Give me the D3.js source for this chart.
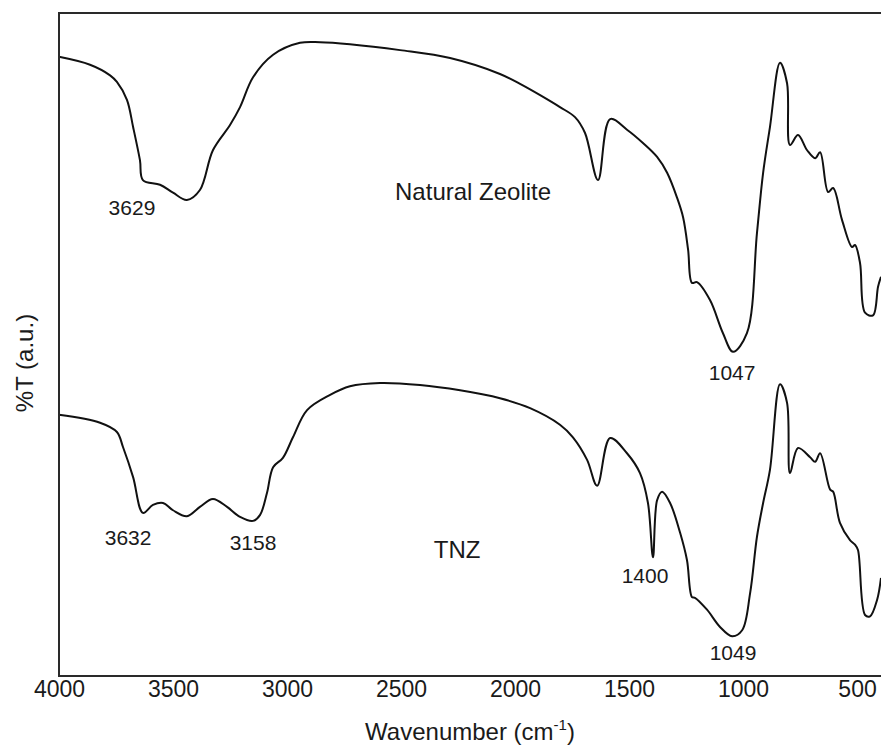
<!DOCTYPE html>
<html>
<head>
<meta charset="utf-8">
<script src="https://cdn.jsdelivr.net/npm/d3@7"></script>
<style>
  html, body { margin: 0; padding: 0; background: #fff; }
  text { font-family: "Liberation Sans", Arial, sans-serif; fill: #1a1a1a; }
</style>
</head>
<body>
<div id="chart"></div>
<script>
// ── Data ────────────────────────────────────────────────
const wavenumbers_nz = [4000, 3864, 3776, 3746, 3702, 3675, 3645, 3632, 3557, 3500, 3439, 3382, 3325, 3250, 3206, 3149, 3061, 2943, 2855, 2724, 2504, 2285, 2066, 1978, 1890, 1803, 1737, 1693, 1636, 1583, 1509, 1439, 1377, 1333, 1290, 1263, 1241, 1224, 1202, 1145, 1088, 1044, 983, 939, 912, 882, 838, 807, 794, 759, 719, 684, 662, 627, 605, 566, 522, 509, 487, 465, 430, 408, 395];
const transmittance_nz = [93.4, 92.2, 90.6, 89.6, 86.9, 82.8, 77.8, 74.8, 74.1, 72.9, 71.8, 73.3, 79.3, 83.1, 85.8, 90.3, 93.7, 95.5, 95.6, 95.3, 94.4, 93.2, 90.8, 89.3, 87.6, 85.8, 84.3, 81.9, 74.8, 84.0, 82.4, 80.4, 78.3, 75.9, 72.2, 69.2, 64.3, 59.3, 59.4, 56.7, 51.7, 48.9, 51.7, 66.8, 75.9, 82.8, 92.5, 89.4, 80.1, 81.6, 79.3, 78.1, 79.0, 73.0, 73.6, 68.8, 64.7, 65.0, 62.3, 54.8, 54.4, 58.7, 60.2];

const wavenumbers_tnz = [4000, 3820, 3746, 3719, 3675, 3632, 3588, 3544, 3500, 3439, 3382, 3325, 3263, 3206, 3149, 3118, 3088, 3061, 3018, 2974, 2912, 2811, 2724, 2592, 2417, 2241, 2066, 1934, 1803, 1746, 1684, 1640, 1583, 1509, 1452, 1417, 1395, 1377, 1355, 1320, 1276, 1246, 1224, 1211, 1158, 1101, 1048, 1004, 969, 939, 912, 882, 838, 807, 794, 759, 706, 684, 662, 618, 605, 575, 531, 509, 496, 465, 443, 412, 395];
const transmittance_tnz = [39.4, 38.2, 36.8, 34.5, 30.0, 24.6, 25.8, 26.1, 25.0, 24.1, 25.5, 26.7, 25.5, 24.0, 23.4, 24.3, 27.6, 31.5, 32.9, 36.0, 40.1, 42.4, 43.7, 44.2, 43.9, 43.1, 41.9, 40.4, 37.9, 36.0, 32.6, 28.7, 35.9, 33.6, 30.6, 26.1, 17.9, 26.5, 27.8, 26.1, 21.6, 17.5, 11.9, 11.8, 10.0, 7.4, 6.0, 6.9, 12.5, 21.0, 26.1, 31.1, 44.0, 41.2, 30.6, 34.4, 33.0, 32.3, 33.6, 28.1, 27.8, 23.1, 20.5, 19.8, 19.0, 9.2, 9.0, 11.5, 14.8];

const xTicks = [4000, 3500, 3000, 2500, 2000, 1500, 1000, 500];

// annotations: text, wavenumber, %T (text centre)
const labelTexts = ['3629', 'Natural Zeolite', '1047', '3632', '3158', 'TNZ', '1400', '1049'];
const labelWaves = [3680, 2184, 1048, 3697, 3149, 2254, 1430, 1044];
const labelTs    = [70.6, 73.0, 45.7, 20.8, 20.1, 19.0, 15.2, 3.5];
const labelSizes = [21, 24, 21, 21, 21, 24, 21, 21];

// ── Layout ──────────────────────────────────────────────
const width = 881, height = 746;
const margin = { left: 59, top: 13, right: 881, bottom: 676 };

const svg = d3.select('#chart')
    .append('svg')
    .attr('width', width)
    .attr('height', height)
    .style('display', 'block')
    .style('background', '#fff');

const x = d3.scaleLinear().domain([4000, 395]).range([margin.left, margin.right]);
const y = d3.scaleLinear().domain([0, 100]).range([margin.bottom, margin.top]);

// ── Spectra ─────────────────────────────────────────────
const line = d3.line()
    .x(d => x(d[0]))
    .y(d => y(d[1]))
    .curve(d3.curveCatmullRom.alpha(0.5));

const series = [
    d3.zip(wavenumbers_nz, transmittance_nz),
    d3.zip(wavenumbers_tnz, transmittance_tnz)
];

svg.append('g')
    .selectAll('path')
    .data(series)
    .join('path')
    .attr('d', line)
    .attr('fill', 'none')
    .attr('stroke', '#111')
    .attr('stroke-width', 2)
    .attr('stroke-linejoin', 'round');

// ── Frame (left, top, bottom) ───────────────────────────
svg.append('path')
    .attr('d', `M${margin.right},${margin.top}H${margin.left}V${margin.bottom}H${margin.right}`)
    .attr('fill', 'none')
    .attr('stroke', '#2a2a2a')
    .attr('stroke-width', 2);

// ── X axis labels ───────────────────────────────────────
const xAxis = svg.append('g')
    .attr('transform', `translate(0,${margin.bottom})`)
    .call(d3.axisBottom(x).tickValues(xTicks).tickSize(0).tickPadding(5).tickFormat(d3.format('d')));
xAxis.select('.domain').remove();
xAxis.selectAll('text')
    .style('font-size', '23px')
    .attr('fill', '#1a1a1a');

// ── Axis titles ─────────────────────────────────────────
const xTitle = svg.append('text')
    .attr('x', (margin.left + margin.right) / 2)
    .attr('y', 740)
    .attr('text-anchor', 'middle')
    .style('font-size', '24px');
xTitle.append('tspan').text('Wavenumber (cm');
xTitle.append('tspan').text('-1').attr('dy', -10).style('font-size', '15px');
xTitle.append('tspan').text(')').attr('dy', 10);

svg.append('text')
    .attr('transform', `translate(25,363) rotate(-90)`)
    .attr('text-anchor', 'middle')
    .attr('dy', '0.35em')
    .style('font-size', '24px')
    .text('%T (a.u.)');

// ── Peak / sample annotations ───────────────────────────
svg.append('g')
    .selectAll('text')
    .data(labelTexts.map((t, i) => ({ t, w: labelWaves[i], v: labelTs[i], s: labelSizes[i] })))
    .join('text')
    .attr('x', d => x(d.w))
    .attr('y', d => y(d.v))
    .attr('dy', '0.35em')
    .attr('text-anchor', 'middle')
    .style('font-size', d => d.s + 'px')
    .text(d => d.t);
</script>
</body>
</html>
